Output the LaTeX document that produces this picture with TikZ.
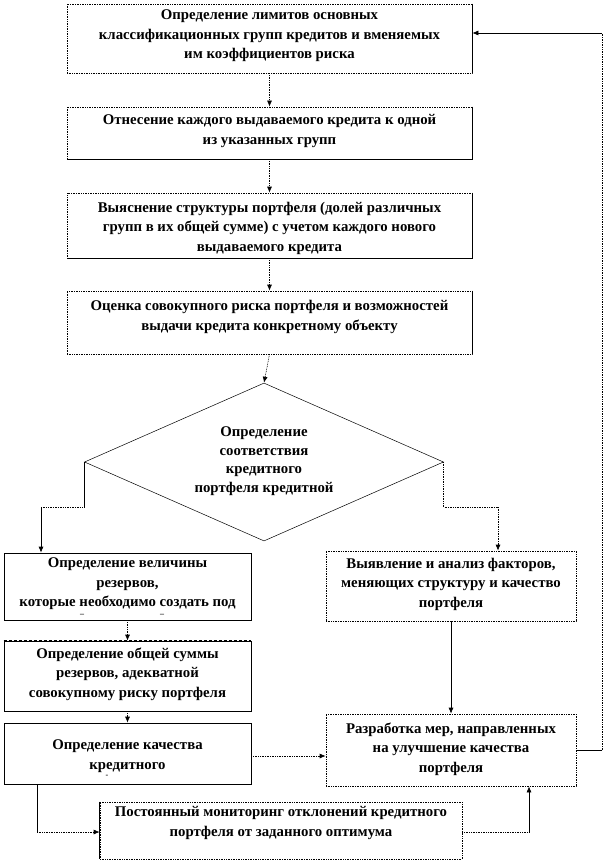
\documentclass[tikz,border=0pt]{standalone}
\usepackage{fontspec}
\setmainfont{Liberation Serif}
\usetikzlibrary{shapes.geometric,arrows.meta,calc}
\begin{document}
\begin{tikzpicture}[x=1pt,y=-1pt,
  txt/.style={font=\bfseries\fontsize{14.8}{19.5}\selectfont, align=center, inner sep=0pt},
  bx/.style={rectangle, inner sep=0pt, line width=0.7pt},
  dbox/.style={bx, draw, densely dotted},
  sbox/.style={bx, draw},
  conn/.style={line width=0.7pt},
  dconn/.style={conn, densely dotted},
  arr/.style={-{Latex[length=6pt,width=5pt]}},
  smallmark/.style={inner sep=0pt, font=\bfseries\fontsize{8}{8}\selectfont},
]
\useasboundingbox[fill=white] (0,0) rectangle (603,861);

% boxes
\node[dbox, minimum width=405pt, minimum height=69pt] (b1) at (269.5,38.5) {};
\node[dbox, minimum width=405pt, minimum height=52pt] (b2) at (269.5,133) {};
\node[dbox, minimum width=405pt, minimum height=65pt] (b3) at (269.5,225.5) {};
\node[dbox, minimum width=405pt, minimum height=63pt] (b4) at (269.5,322.5) {};
\node[draw, diamond, line width=0.5pt, inner sep=0pt, aspect=2.27, minimum width=359pt, minimum height=158pt] (d) at (264,462) {};
\node[sbox, minimum width=247pt, minimum height=67pt] (b5) at (127.5,586.5) {};
\node[dbox, minimum width=250pt, minimum height=70pt] (b6) at (451,586) {};
\node[sbox, minimum width=247pt, minimum height=70pt] (b7) at (127.5,676) {};
\node[sbox, minimum width=247pt, minimum height=61pt] (b8) at (127.5,753.5) {};
\node[dbox, minimum width=250pt, minimum height=72pt] (b9) at (451,750) {};
\node[dbox, minimum width=362pt, minimum height=57pt] (b10) at (281,830.5) {};

% solid edges of the partly dotted boxes
\draw[conn] (b1.north east) -- (b1.south east);
\draw[conn] (b2.north east) -- (b2.south east) -- (b2.south west);
\draw[conn] (b3.north east) -- (b3.south east) -- (b3.south west);
\draw[conn] (b4.north east) -- (b4.south east);
\draw[conn] (b10.north west) -- (b10.south west);
\draw[white, line width=0.8pt] (b7.north west) -- (b7.north east);
\draw[conn, dash pattern=on 3pt off 2pt] (b7.north west) -- (b7.north east);

% texts
\node[txt] (t1) at (269.5,36) {Определение лимитов основных\\классификационных групп кредитов и вменяемых\\им коэффициентов риска};
\node[txt] (t2) at (269.5,131) {Отнесение каждого выдаваемого кредита к одной\\из указанных групп};
\node[txt] (t3) at (269.5,228) {Выяснение структуры портфеля (долей различных\\групп в их общей сумме) с учетом каждого нового\\выдаваемого кредита};
\node[txt] (t4) at (269.5,317) {Оценка совокупного риска портфеля и возможностей\\выдачи кредита конкретному объекту};
\node[txt, font=\bfseries\fontsize{14.8}{18.5}\selectfont] (td) at (264,461) {Определение\\соответствия\\кредитного\\портфеля кредитной};
\node[txt] (t5) at (127.5,584) {Определение величины\\резервов,\\которые необходимо создать под};
\node[smallmark] (m1) at (82,615) {--};
\node[smallmark] (m2) at (162,615) {--};
\node[txt] (t6) at (451,584) {Выявление и анализ факторов,\\меняющих структуру и качество\\портфеля};
\node[txt] (t7) at (127.5,674) {Определение общей суммы\\резервов, адекватной\\совокупному риску портфеля};
\node[txt] (t8) at (127.5,756) {Определение качества\\кредитного};
\node[smallmark] (m3) at (107,776) {-};
\node[txt] (t9) at (451,749) {Разработка мер, направленных\\на улучшение качества\\портфеля};
\node[txt] (t10) at (281,823) {Постоянный мониторинг отклонений кредитного\\портфеля от заданного оптимума};

% coordinates for bends
\coordinate (L1) at (41,507);
\coordinate (R1) at (498,507);
\coordinate (TR) at (602,33);
\coordinate (BL) at (37,832);
\coordinate (BR) at (529,832);

% connectors
\draw[dconn,arr] (b1.south) -- (b2.north);
\draw[dconn,arr] (b2.south) -- (b3.north);
\draw[dconn,arr] (b3.south) -- (b4.north);
\draw[dconn,arr] (b4.south) -- (d.north);

\draw[conn] (d.west) -- (d.west |- L1);
\draw[dconn] (d.west |- L1) -- (L1);
\draw[conn,arr] (L1) -- (L1 |- b5.north);

\draw[dconn] (d.east) -- (d.east |- R1) -- (R1);
\draw[dconn,arr] (R1) -- (R1 |- b6.north);

\draw[dconn,arr] (b5.south) -- (b7.north);
\draw[dconn,arr] (b7.south) -- (b8.north);
\draw[conn,arr] (b6.south) -- (b9.north);
\draw[dconn,arr] (b8.east |- t8) -- (b9.west |- t8);

\draw[conn] (b9.east) -- (b9.east -| TR);
\draw[dconn] (b9.east -| TR) -- (TR);
\draw[conn,arr] (TR) -- (TR -| b1.east);

\draw[conn] (b8.south -| BL) -- (BL);
\draw[dconn,arr] (BL) -- (BL -| b10.west);

\draw[dconn] (b10.east |- BR) -- (BR);
\draw[conn,arr] (BR) -- (BR |- b9.south);
\end{tikzpicture}
\end{document}
